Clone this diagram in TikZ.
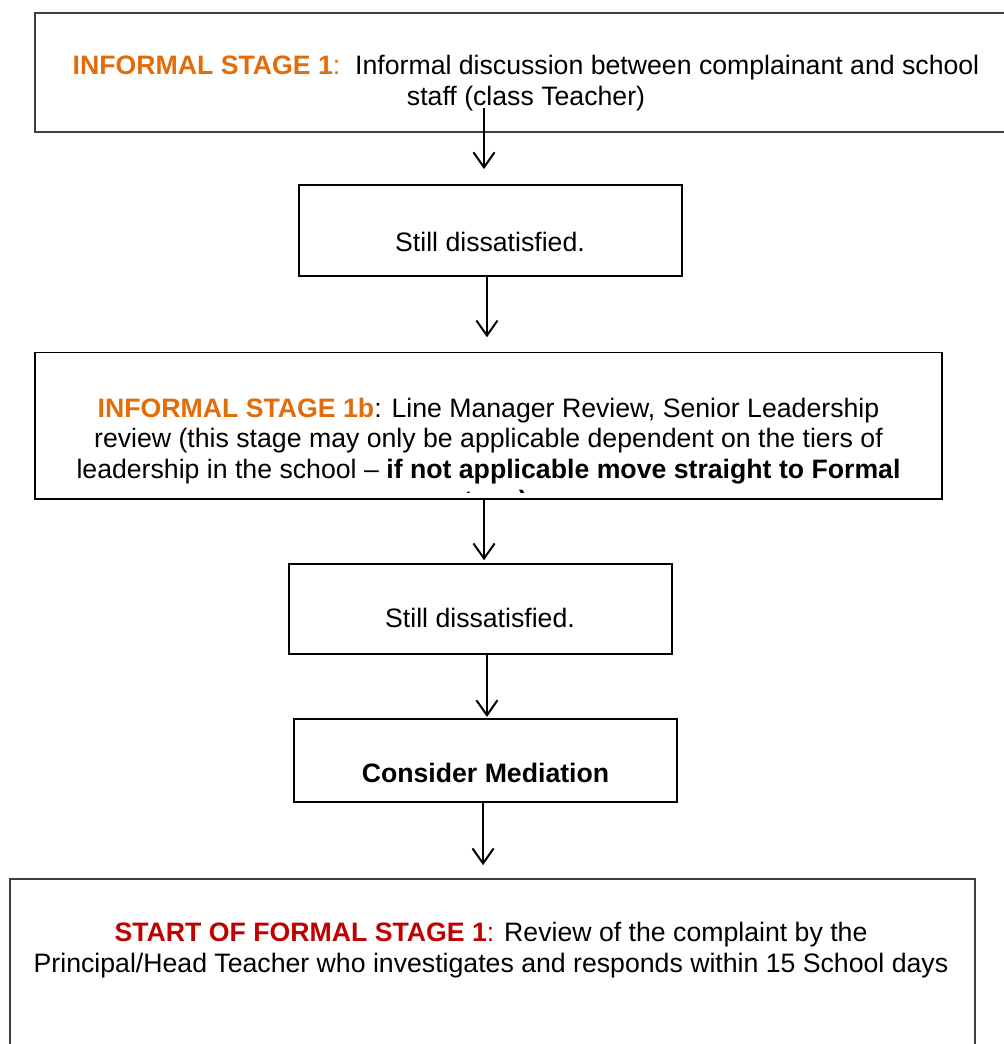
\documentclass[tikz,border=0pt]{standalone}
\usepackage{fontspec}
\setmainfont{Liberation Sans}
\usetikzlibrary{arrows.meta}
\definecolor{stageOrange}{HTML}{E36C0A}
\definecolor{formalRed}{HTML}{C00000}

\begin{document}
\begin{tikzpicture}[x = 0.45pt, y = -0.45pt]
\tikzstyle{boxStyle} = [shape = rectangle, draw, line width = 0.8pt, inner sep = 0pt]
\tikzstyle{textStyle} = [align = center, inner sep = 0pt, anchor = base,
font = \fontsize{12}{13.8}\selectfont]
\tikzstyle{arrowStyle} = [line width = 0.9pt, -{Straight Barb[length = 6.75pt, width = 9.5pt]}]
\useasboundingbox (0,0) rectangle (1003,1044);
% boxes
\node[boxStyle, draw = black!75, minimum width = 441pt, minimum height = 53.8pt] (b1) at (525,72.5) {};
\node[boxStyle, minimum width = 172.4pt, minimum height = 41pt] (b2) at (490.5,230.5) {};
\node[boxStyle, minimum width = 408.2pt, minimum height = 65.9pt] (b3) at (488.5,425.8) {};
\node[boxStyle, minimum width = 172.4pt, minimum height = 40.5pt] (b4) at (480.5,609) {};
\node[boxStyle, minimum width = 172.4pt, minimum height = 37.4pt] (b5) at (485.5,760.5) {};
\node[boxStyle, draw = black!75, minimum width = 434.3pt, minimum height = 99.5pt] (b6) at (492.5,989.5) {};
% texts (base = last line)
\node[textStyle] (t1) at (526,105.5) {{\color{stageOrange}\textbf{INFORMAL STAGE 1}:}\ \ Informal discussion between complainant and school\\staff (class Teacher)};
\node[textStyle] (t2) at (490,251) {Still dissatisfied.};
\begin{scope}
\clip (b3.north west) rectangle ([yshift = 3.2pt]b3.south east);
\node[textStyle] (t3) at (488.5,509) {{\color{stageOrange}\textbf{INFORMAL STAGE 1b}}: Line Manager Review, Senior Leadership\\review (this stage may only be applicable dependent on the tiers of\\leadership in the school -- \textbf{if not applicable move straight to Formal}\\\textbf{stage)}};
\end{scope}
\node[textStyle] (t4) at (480,627) {Still dissatisfied.};
\node[textStyle] (t5) at (485.5,782) {\textbf{Consider Mediation}};
\node[textStyle] (t6) at (491,972) {{\color{formalRed}\textbf{START OF FORMAL STAGE 1}:} Review of the complaint by the\\Principal/Head Teacher who investigates and responds within 15 School days};
% arrows
\coordinate (s1) at (484,108);
\path[arrowStyle]
(s1) edge[shorten >= 6.75pt] (s1 |- b2.north)
([xshift = -1.6pt]b2.south) edge[shorten >= 6.5pt] ([xshift = -1.6pt]b2.south |- b3.north)
([xshift = -2pt]b3.south) edge[shorten >= 1.3pt] ([xshift = -2pt]b3.south |- b4.north)
([xshift = 2.9pt]b4.south) edge[shorten >= 0.5pt] ([xshift = 2.9pt]b4.south |- b5.north)
([xshift = -1.1pt]b5.south) edge[shorten >= 5.8pt] ([xshift = -1.1pt]b5.south |- b6.north);
\end{tikzpicture}
\end{document}
